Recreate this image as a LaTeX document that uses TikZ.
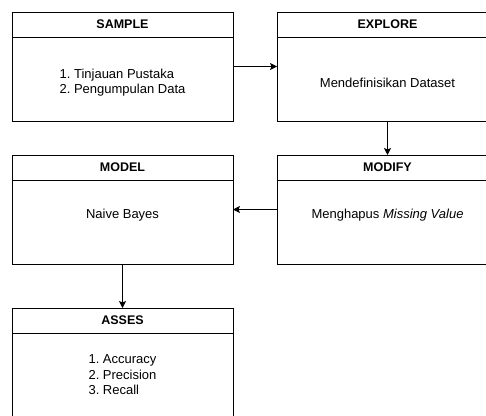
\documentclass[tikz,border=0pt]{standalone}
\usepackage{fontspec}
\setmainfont{Liberation Sans}
\frenchspacing
\usepackage{tikz}
\usetikzlibrary{positioning, arrows.meta, calc}
\tikzset{
    >={Stealth[length=7pt, width=7pt, inset=1.5pt]}, % Arrow heads
    node distance = 44pt,                       % Gap between two boxes
    every node/.style={outer sep=0pt},
    head/.style={draw, line width=0.8pt, minimum width=221pt, minimum height=25pt,
                 inner sep=0pt, font=\fontsize{12.5}{15}\selectfont\bfseries},
    body/.style={draw, line width=0.8pt, minimum width=221pt, minimum height=84pt,
                 inner sep=0pt},
    txt/.style={font=\fontsize{13}{15.5}\selectfont, align=left},
    flow/.style={->, line width=0.8pt}
}
\begin{document}
\begin{tikzpicture}[x=1pt, y=-1pt]
            \useasboundingbox (0,0) rectangle (486,415);
            \clip (0,0) rectangle (486,415);

            % Define boxes
            \node [head, anchor=north west] (sampleH) at (12,12) {SAMPLE};
            \node [body, below = 0pt of sampleH,
                   label={[txt, yshift=-3.5pt]center:{1. Tinjauan Pustaka\\2. Pengumpulan Data}}] (sampleB) {};
            \node [head, right = of sampleH] (exploreH) {EXPLORE};
            \node [body, below = 0pt of exploreH,
                   label={[txt, yshift=-3.5pt]center:{Mendefinisikan Dataset}}] (exploreB) {};
            \node [head, below = 34pt of exploreB] (modifyH) {MODIFY};
            \node [body, below = 0pt of modifyH,
                   label={[txt, yshift=7pt]center:{Menghapus \textit{Missing Value}}}] (modifyB) {};
            \node [head, left = of modifyH] (modelH) {MODEL};
            \node [body, below = 0pt of modelH,
                   label={[txt, yshift=7pt]center:{Naive Bayes}}] (modelB) {};
            \node [head, below = of modelB] (assesH) {ASSES};
            \node [body, below = 0pt of assesH,
                   label={[txt]center:{1. Accuracy\\2. Precision\\3. Recall}}] (assesB) {};

            % Draw arrows
            \draw [flow] ($(sampleH.north east)!0.5!(sampleB.south east)$)
                      -- ($(exploreH.north west)!0.5!(exploreB.south west)$);
            \draw [flow] (exploreB.south) -- (modifyH.north);
            \draw [flow] ($(modifyH.north west)!0.5!(modifyB.south west)$)
                      -- ($(modelH.north east)!0.5!(modelB.south east)$);
            \draw [flow] (modelB.south) -- (assesH.north);
\end{tikzpicture}
\end{document}
